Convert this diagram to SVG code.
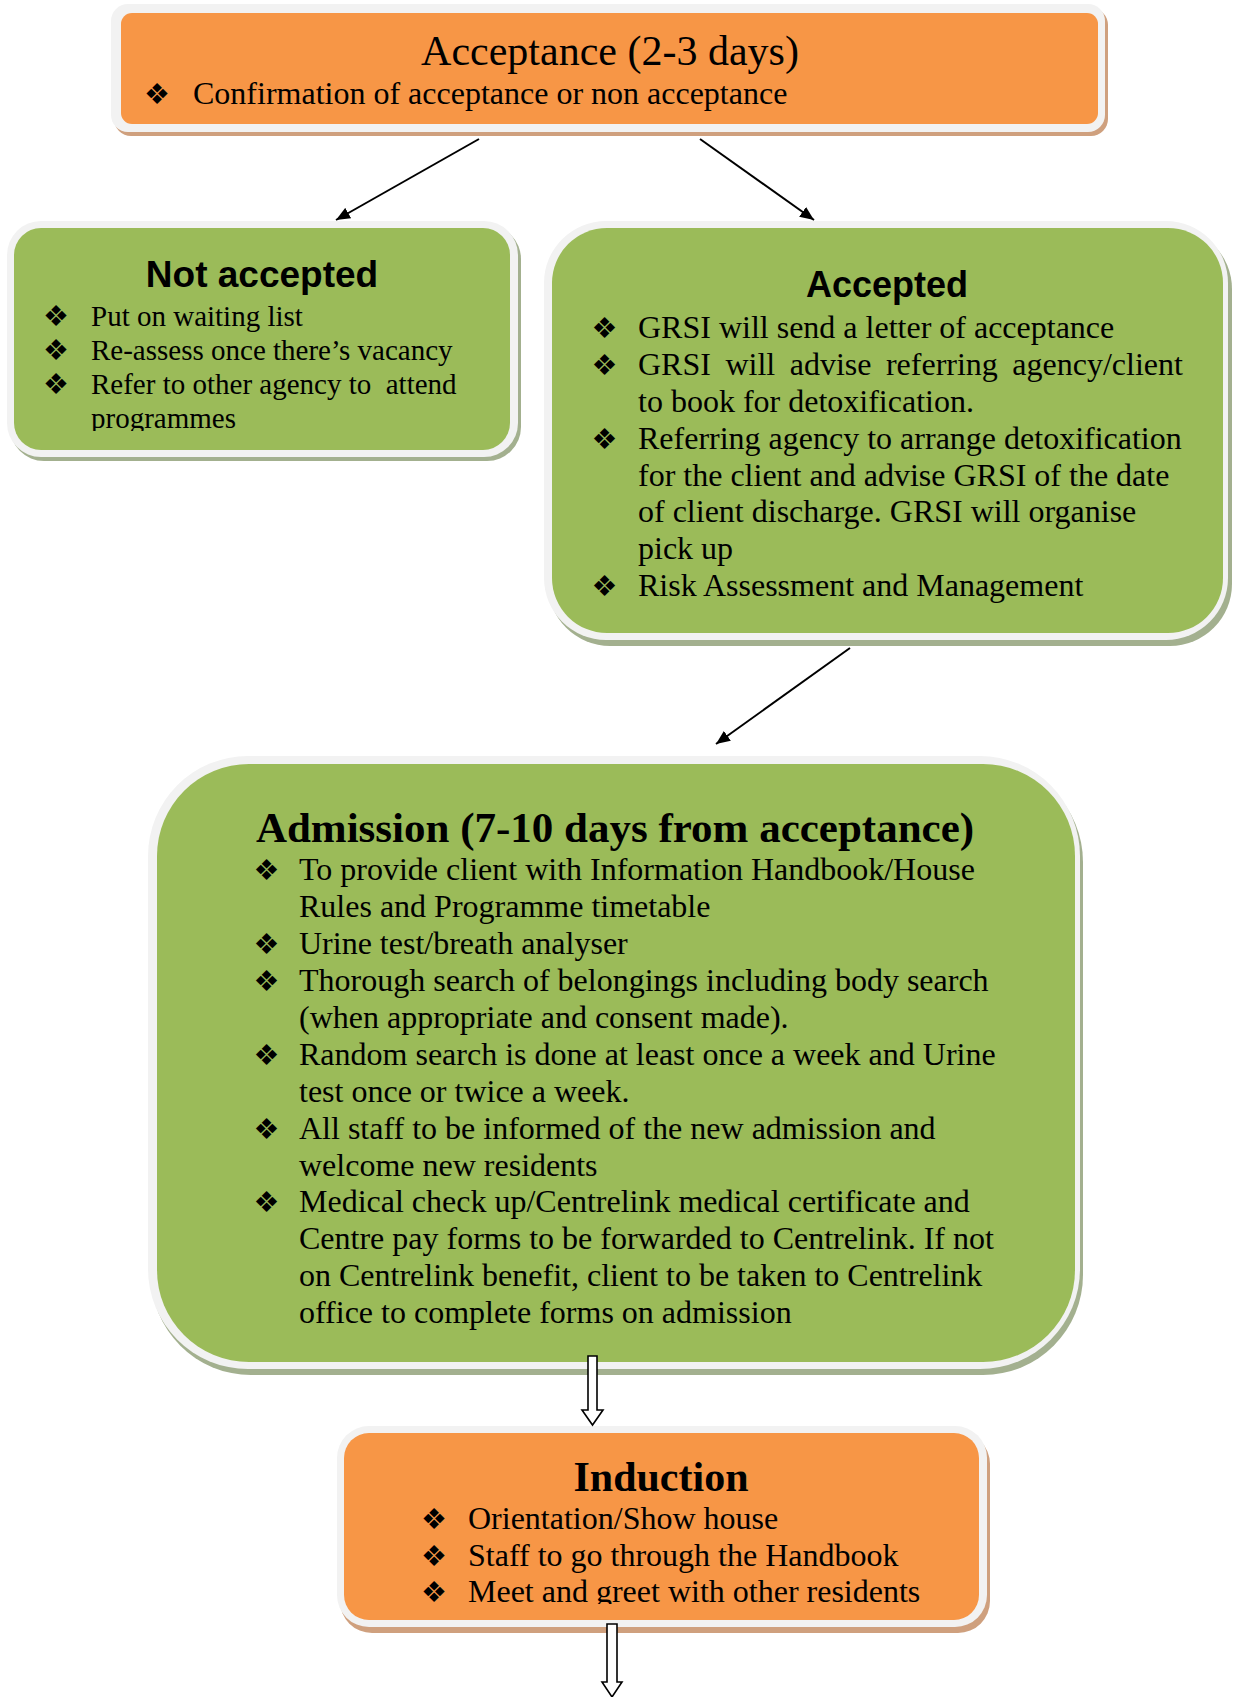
<svg xmlns="http://www.w3.org/2000/svg" width="1233" height="1697" viewBox="0 0 1233 1697">
<style>
.ser{font-family:"Liberation Serif","Times New Roman",serif;fill:#000}
.body{font-size:32px}
.small{font-size:29px}
.ttl{font-size:42px}
.bt{font-weight:bold}
.hs{font-family:"Liberation Sans",Arial,sans-serif;font-weight:bold;font-size:36px;fill:#000}
.bul{font-family:"DejaVu Sans",sans-serif;font-size:29px;fill:#000}
.rim{fill:#F2F2F2}
.og{fill:#F79646}
.ogs{fill:#CFA07E}
.gr{fill:#9BBB59}
.grs{fill:#A3B08F}
.conn{stroke:#000;stroke-width:2;fill:none}
.blk{stroke:#000;stroke-width:1.6;fill:#fff}
</style>
<defs>
<marker id="ah" viewBox="0 0 14 12" refX="14" refY="6" markerWidth="14" markerHeight="12" markerUnits="userSpaceOnUse" orient="auto"><path d="M0,0 L14,6 L0,12 z" fill="#000"/></marker>
<clipPath id="clipNA"><rect x="0" y="230" width="520" height="201"/></clipPath>
<clipPath id="clipInd"><rect x="340" y="1430" width="650" height="174"/></clipPath>
</defs>

<g id="node-acceptance">
<rect class="ogs" x="114" y="8" width="994" height="128" rx="17"/>
<rect class="rim" x="111" y="4" width="994" height="128" rx="17"/>
<rect class="og" x="121" y="13" width="977" height="111" rx="11"/>
<text class="ser ttl" x="610" y="65" text-anchor="middle">Acceptance (2-3 days)</text>
<text class="bul" x="157" y="104" text-anchor="middle">❖</text>
<text class="ser body" x="193" y="104">Confirmation of acceptance or non acceptance</text>
</g>

<g id="node-not-accepted">
<rect class="grs" x="10" y="225" width="511" height="236" rx="34"/>
<rect class="rim" x="7" y="221" width="511" height="236" rx="34"/>
<rect class="gr" x="14" y="228" width="496" height="222" rx="27"/>
<text class="hs" x="262" y="287" text-anchor="middle" style="font-size:37px">Not accepted</text>
<g clip-path="url(#clipNA)">
<text class="bul" x="56" y="326" text-anchor="middle">❖</text>
<text class="bul" x="56" y="360" text-anchor="middle">❖</text>
<text class="bul" x="56" y="394" text-anchor="middle">❖</text>
<text class="ser small" x="91" y="326">Put on waiting list</text>
<text class="ser small" x="91" y="360">Re-assess once there’s vacancy</text>
<text class="ser small" x="91" y="394" xml:space="preserve">Refer to other agency to  attend</text>
<text class="ser small" x="91" y="428">programmes</text>
</g>
</g>

<g id="node-accepted">
<rect class="grs" x="548" y="227" width="684" height="419" rx="62"/>
<rect class="rim" x="544" y="221" width="684" height="419" rx="62"/>
<rect class="gr" x="552" y="228" width="671" height="405" rx="55"/>
<text class="hs" x="887" y="297" text-anchor="middle">Accepted</text>
<text class="bul" x="604.5" y="338" text-anchor="middle">❖</text>
<text class="bul" x="604.5" y="374.5" text-anchor="middle">❖</text>
<text class="bul" x="604.5" y="448.5" text-anchor="middle">❖</text>
<text class="bul" x="604.5" y="595.5" text-anchor="middle">❖</text>
<text class="ser body" x="638" y="338">GRSI will send a letter of acceptance</text>
<text class="ser body" x="638" y="374.5" word-spacing="6.5">GRSI will advise referring agency/client</text>
<text class="ser body" x="638" y="411.5">to book for detoxification.</text>
<text class="ser body" x="638" y="448.5">Referring agency to arrange detoxification</text>
<text class="ser body" x="638" y="485.5">for the client and advise GRSI of the date</text>
<text class="ser body" x="638" y="522">of client discharge. GRSI will organise</text>
<text class="ser body" x="638" y="559">pick up</text>
<text class="ser body" x="638" y="595.5">Risk Assessment and Management</text>
</g>

<g id="node-admission">
<rect class="grs" x="151" y="762" width="932" height="613" rx="100"/>
<rect class="rim" x="148" y="756" width="932" height="613" rx="100"/>
<rect class="gr" x="157" y="764" width="918" height="598" rx="92"/>
<text class="ser ttl bt" x="615" y="842" text-anchor="middle" style="font-size:43px">Admission (7-10 days from acceptance)</text>
<text class="bul" x="266.5" y="880" text-anchor="middle">❖</text>
<text class="bul" x="266.5" y="954" text-anchor="middle">❖</text>
<text class="bul" x="266.5" y="991" text-anchor="middle">❖</text>
<text class="bul" x="266.5" y="1065" text-anchor="middle">❖</text>
<text class="bul" x="266.5" y="1139" text-anchor="middle">❖</text>
<text class="bul" x="266.5" y="1212" text-anchor="middle">❖</text>
<text class="ser body" x="299" y="880">To provide client with Information Handbook/House</text>
<text class="ser body" x="299" y="917">Rules and Programme timetable</text>
<text class="ser body" x="299" y="954">Urine test/breath analyser</text>
<text class="ser body" x="299" y="991">Thorough search of belongings including body search</text>
<text class="ser body" x="299" y="1028">(when appropriate and consent made).</text>
<text class="ser body" x="299" y="1065">Random search is done at least once a week and Urine</text>
<text class="ser body" x="299" y="1102">test once or twice a week.</text>
<text class="ser body" x="299" y="1139">All staff to be informed of the new admission and</text>
<text class="ser body" x="299" y="1175.5">welcome new residents</text>
<text class="ser body" x="299" y="1212">Medical check up/Centrelink medical certificate and</text>
<text class="ser body" x="299" y="1249">Centre pay forms to be forwarded to Centrelink. If not</text>
<text class="ser body" x="299" y="1286">on Centrelink benefit, client to be taken to Centrelink</text>
<text class="ser body" x="299" y="1322.5">office to complete forms on admission</text>
</g>

<g id="node-induction">
<rect class="ogs" x="340" y="1432" width="650" height="201" rx="32"/>
<rect class="rim" x="337" y="1426" width="650" height="201" rx="32"/>
<rect class="og" x="344" y="1433" width="635" height="187" rx="25"/>
<text class="ser ttl bt" x="661" y="1491" text-anchor="middle">Induction</text>
<g clip-path="url(#clipInd)">
<text class="bul" x="434" y="1529" text-anchor="middle">❖</text>
<text class="bul" x="434" y="1566" text-anchor="middle">❖</text>
<text class="bul" x="434" y="1602" text-anchor="middle">❖</text>
<text class="ser body" x="468" y="1529">Orientation/Show house</text>
<text class="ser body" x="468" y="1566">Staff to go through the Handbook</text>
<text class="ser body" x="468" y="1602">Meet and greet with other residents</text>
</g>
</g>

<g id="connectors">
<line class="conn" x1="479" y1="139" x2="336" y2="220" marker-end="url(#ah)"/>
<line class="conn" x1="700" y1="139" x2="814" y2="220" marker-end="url(#ah)"/>
<line class="conn" x1="850" y1="648" x2="716" y2="744" marker-end="url(#ah)"/>
<path class="blk" d="M588,1356 H597 V1410 H603 L592.5,1425 L582,1410 H588 Z"/>
<path class="blk" d="M607,1624 H617 V1682 H622 L612,1697 L602,1682 H607 Z"/>
</g>
</svg>
